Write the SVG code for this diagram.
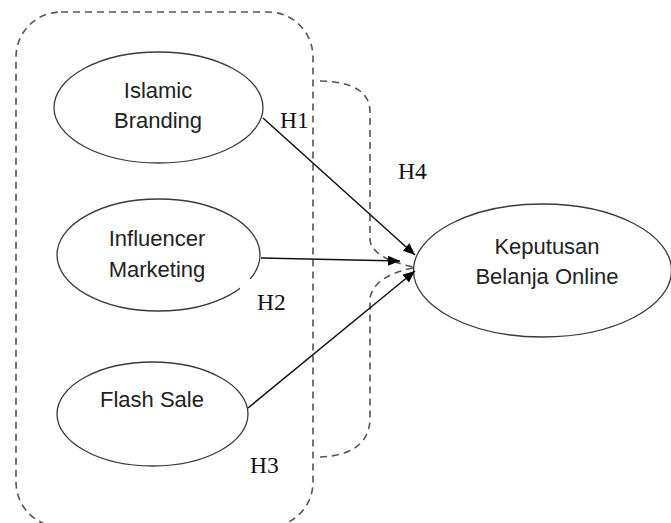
<svg xmlns="http://www.w3.org/2000/svg" width="671" height="523" viewBox="0 0 671 523">
<defs>
<style>
.node ellipse{fill:#fff;stroke:#3a3a3a;stroke-width:1.3}
.lbl{font-family:"Liberation Sans",Arial,sans-serif;font-size:22px;fill:#222;text-anchor:middle}
.h{font-family:"Liberation Serif","Times New Roman",serif;font-size:23.5px;fill:#111}
.dash{fill:none;stroke:#555;stroke-width:1.6;stroke-dasharray:7,5}
.arrow{fill:none;stroke:#111;stroke-width:1.5}
</style>
<marker id="ah" viewBox="0 0 12 10" refX="12" refY="5" markerWidth="12" markerHeight="10" markerUnits="userSpaceOnUse" orient="auto">
<path d="M0,0 L12,5 L0,10 Z" fill="#000"/>
</marker>
</defs>
<rect width="671" height="523" fill="#fff"/>
<g id="groups">
<rect class="dash" x="16" y="12" width="297" height="515" rx="45" ry="45"/>
<path class="dash" d="M320,81 Q370,82 370,112 V240 Q372,258 413,267"/>
<path class="dash" d="M413,268 Q374,276 370,298 V420 Q368,455 320,457"/>
</g>
<g id="islamic-branding" class="node">
<ellipse cx="158.5" cy="107.5" rx="104.5" ry="55.5"/>
<text class="lbl" x="158" y="98">Islamic</text>
<text class="lbl" x="158" y="128">Branding</text>
</g>
<g id="influencer-marketing" class="node">
<ellipse cx="158.5" cy="255" rx="101.5" ry="56"/>
<text class="lbl" x="157" y="246">Influencer</text>
<text class="lbl" x="157" y="277">Marketing</text>
</g>
<g id="flash-sale" class="node">
<ellipse cx="152.5" cy="414" rx="95.5" ry="52"/>
<text class="lbl" x="152" y="407">Flash Sale</text>
</g>
<g id="keputusan" class="node">
<ellipse cx="542.5" cy="270.5" rx="129" ry="66.5"/>
<text class="lbl" x="547" y="254">Keputusan</text>
<text class="lbl" x="547" y="284">Belanja Online</text>
</g>
<g id="connectors">
<path class="arrow" d="M263,118 L415,255" marker-end="url(#ah)"/>
<path class="arrow" d="M261,258 L400,261" marker-end="url(#ah)"/>
<path class="arrow" d="M248,408 L415,271" marker-end="url(#ah)"/>
</g>
<g id="labels">
<text class="h" x="280" y="128">H1</text>
<rect x="240" y="279" width="55" height="38" fill="#fff"/>
<text class="h" x="257" y="310">H2</text>
<text class="h" x="250" y="473">H3</text>
<text class="h" x="398" y="179">H4</text>
</g>
</svg>
